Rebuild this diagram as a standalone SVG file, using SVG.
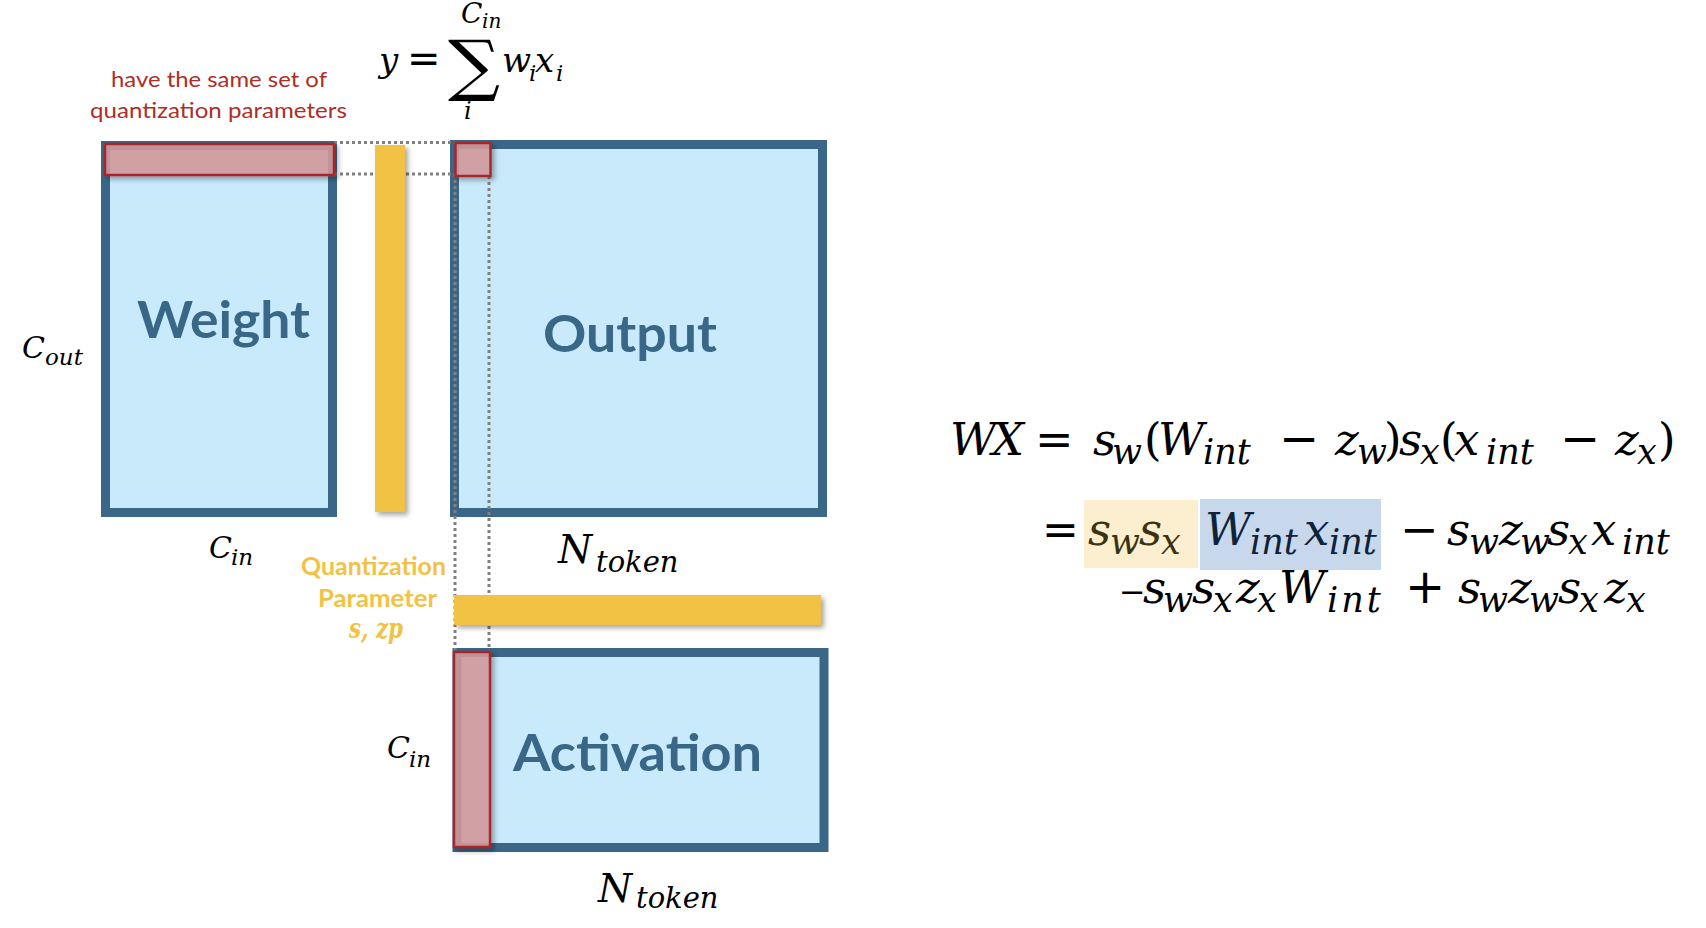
<svg xmlns="http://www.w3.org/2000/svg" width="1706" height="928" viewBox="0 0 1706 928">
<defs>
<style>
.box{fill:#c8eafb;stroke:#3a6787;stroke-width:9}
.pink{fill:#d69b9d;fill-opacity:0.85;stroke:#a8282b;stroke-width:2.5}
.ybar{fill:#f2c244}
.dot{stroke:#808080;stroke-width:3;stroke-dasharray:3 3;fill:none}
.lbl{font-family:Lato,"Open Sans",sans-serif;font-weight:bold;fill:#396787;font-size:52px}
.red{font-family:Lato,"Open Sans",sans-serif;fill:#ad2e26;font-size:22px}
.qp{font-family:Lato,"Open Sans",sans-serif;font-weight:bold;fill:#f2c244;font-size:25px}
.m{font-family:"DejaVu Serif",serif;font-style:italic;fill:#000}
.op{font-family:"DejaVu Sans",sans-serif;font-style:normal}
.up{font-style:normal}
.ys{fill:#3b3211}
.bs{fill:#0e2239}
</style>
<filter id="sh" x="-20%" y="-20%" width="150%" height="150%">
<feDropShadow dx="3" dy="3" stdDeviation="2.5" flood-color="#000" flood-opacity="0.35"/>
</filter>
</defs>
<rect width="1706" height="928" fill="#fff"/>

<g id="weight">
<rect class="box" x="105.5" y="145.5" width="227" height="367"/>
<text class="lbl" x="137" y="338" textLength="173" lengthAdjust="spacingAndGlyphs">Weight</text>
</g>

<g id="output">
<rect class="box" x="454.5" y="144.5" width="368" height="368"/>
<text class="lbl" x="543" y="352" textLength="174" lengthAdjust="spacingAndGlyphs">Output</text>
</g>

<g id="activation">
<rect class="box" x="457" y="652.5" width="367" height="195"/>
<text class="lbl" x="513" y="771" textLength="249" lengthAdjust="spacingAndGlyphs">Activation</text>
</g>

<g id="connectors">
<line class="dot" x1="334" y1="142.5" x2="455" y2="142.5"/>
<line class="dot" x1="334" y1="174" x2="455" y2="174"/>
<line class="dot" x1="455" y1="174" x2="455" y2="650"/>
<line class="dot" x1="489" y1="176" x2="489" y2="650"/>
</g>

<g id="weight-qparam">
<rect class="ybar" x="375" y="145" width="30" height="367" filter="url(#sh)"/>
</g>

<g id="act-qparam">
<rect class="ybar" x="454" y="595" width="367" height="30" filter="url(#sh)"/>
</g>

<g id="weight-row">
<rect class="pink" x="105" y="144" width="229" height="31" filter="url(#sh)"/>
</g>
<g id="output-elem">
<rect class="pink" x="455.5" y="143" width="35" height="33" filter="url(#sh)"/>
</g>
<g id="act-col">
<rect class="pink" x="454" y="652" width="36" height="195" filter="url(#sh)"/>
</g>

<g id="note">
<text class="red" x="111" y="87" textLength="216" lengthAdjust="spacingAndGlyphs">have the same set of</text>
<text class="red" x="90" y="118" textLength="257" lengthAdjust="spacingAndGlyphs">quantization parameters</text>
</g>

<g id="qparam-label">
<text class="qp" x="301" y="575" textLength="145" lengthAdjust="spacingAndGlyphs">Quantization</text>
<text class="qp" x="318" y="607" textLength="119" lengthAdjust="spacingAndGlyphs">Parameter</text>
<text class="m" x="349" y="638" font-size="28" font-weight="bold" style="fill:#f2c244" textLength="54" lengthAdjust="spacingAndGlyphs">s, zp</text>
</g>

<g id="sum-formula">
<text class="m" font-size="34">
<tspan x="379" y="72">y</tspan>
<tspan class="op" x="407" y="72" font-size="40">=</tspan>
<tspan x="461" y="23" font-size="28">C</tspan>
<tspan x="482" y="28" font-size="20">in</tspan>
<tspan x="464" y="119" font-size="24">i</tspan>
<tspan x="502" y="72">w</tspan>
<tspan x="529" y="81" font-size="23">i</tspan>
<tspan x="535" y="72">x</tspan>
<tspan x="556" y="81" font-size="23">i</tspan>
</text>
<text class="m" transform="translate(448,87.5) scale(1.09,1)" font-size="67" style="font-style:normal">∑</text>
</g>

<g id="dim-labels">
<text class="m"><tspan x="22" y="358" font-size="30">C</tspan><tspan x="45" y="365" font-size="23">out</tspan></text>
<text class="m"><tspan x="209" y="558" font-size="30">C</tspan><tspan x="231" y="565" font-size="23">in</tspan></text>
<text class="m"><tspan x="387" y="758" font-size="30">C</tspan><tspan x="409" y="767" font-size="23">in</tspan></text>
<text class="m"><tspan x="558" y="563" font-size="39">N</tspan><tspan x="596" y="572" font-size="29">token</tspan></text>
<text class="m"><tspan x="598" y="902" font-size="39">N</tspan><tspan x="636" y="908" font-size="29">token</tspan></text>
</g>

<g id="equation">
<rect x="1084" y="500" width="114" height="68" fill="#fcefcf"/>
<rect x="1200" y="499" width="181" height="71" fill="#c7d8ec"/>
<text class="m" font-size="45">
<tspan x="950" y="455">W</tspan>
<tspan x="992" y="455">X</tspan>
<tspan class="op" x="1035" y="455" font-size="46">=</tspan>
<tspan x="1093" y="455">s</tspan>
<tspan x="1112" y="464" font-size="35">w</tspan>
<tspan class="up" x="1144" y="455">(</tspan>
<tspan x="1158" y="455">W</tspan>
<tspan x="1203" y="464" font-size="35">int</tspan>
<tspan class="op" x="1279" y="455" font-size="48">−</tspan>
<tspan x="1335" y="455">z</tspan>
<tspan x="1357" y="464" font-size="35">w</tspan>
<tspan class="up" x="1384" y="455">)</tspan>
<tspan x="1399" y="455">s</tspan>
<tspan x="1420" y="464" font-size="35">x</tspan>
<tspan class="up" x="1440" y="455">(</tspan>
<tspan x="1454" y="455">x</tspan>
<tspan x="1486" y="464" font-size="35">int</tspan>
<tspan class="op" x="1560" y="455" font-size="48">−</tspan>
<tspan x="1615" y="455">z</tspan>
<tspan x="1637" y="464" font-size="35">x</tspan>
<tspan class="up" x="1658" y="455">)</tspan>
</text>
<text class="m" font-size="45">
<tspan class="op" x="1042" y="545" font-size="44">=</tspan>
<tspan class="ys" x="1088" y="545">s</tspan>
<tspan class="ys" x="1110" y="554" font-size="35">w</tspan>
<tspan class="ys" x="1139" y="545">s</tspan>
<tspan class="ys" x="1161" y="554" font-size="35">x</tspan>
<tspan class="bs" x="1205" y="545">W</tspan>
<tspan class="bs" x="1250" y="554" font-size="35">int</tspan>
<tspan class="bs" x="1304" y="545">x</tspan>
<tspan class="bs" x="1329" y="554" font-size="35">int</tspan>
<tspan class="op" x="1400" y="545" font-size="46">−</tspan>
<tspan x="1447" y="545">s</tspan>
<tspan x="1469" y="554" font-size="35">w</tspan>
<tspan x="1499" y="545">z</tspan>
<tspan x="1520" y="554" font-size="35">w</tspan>
<tspan x="1547" y="545">s</tspan>
<tspan x="1568" y="554" font-size="35">x</tspan>
<tspan x="1591" y="545">x</tspan>
<tspan x="1622" y="554" font-size="35">int</tspan>
</text>
<text class="m" font-size="45">
<tspan class="op" x="1119" y="603" font-size="32">−</tspan>
<tspan x="1143" y="603">s</tspan>
<tspan x="1163" y="612" font-size="35">w</tspan>
<tspan x="1192" y="603">s</tspan>
<tspan x="1213" y="612" font-size="35">x</tspan>
<tspan x="1236" y="603">z</tspan>
<tspan x="1257" y="612" font-size="35">x</tspan>
<tspan x="1279" y="603">W</tspan>
<tspan x="1327" y="612" font-size="35" style="letter-spacing:3px">int</tspan>
<tspan class="op" x="1405" y="603" font-size="48">+</tspan>
<tspan x="1458" y="603">s</tspan>
<tspan x="1478" y="612" font-size="35">w</tspan>
<tspan x="1508" y="603">z</tspan>
<tspan x="1529" y="612" font-size="35">w</tspan>
<tspan x="1558" y="603">s</tspan>
<tspan x="1579" y="612" font-size="35">x</tspan>
<tspan x="1604" y="603">z</tspan>
<tspan x="1626" y="612" font-size="35">x</tspan>
</text>
</g>
</svg>
